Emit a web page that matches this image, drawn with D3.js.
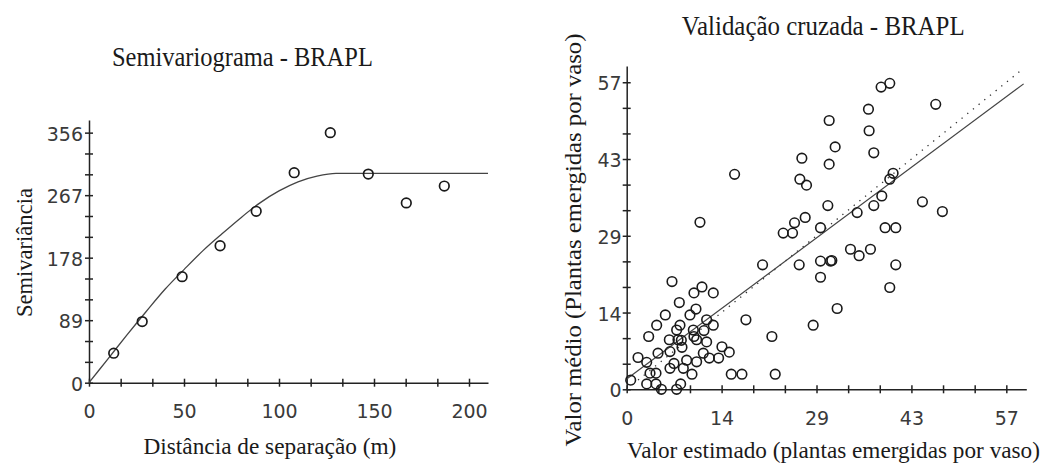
<!DOCTYPE html>
<html>
<head>
  <script src="https://d3js.org/d3.v7.min.js"></script>
</head>
<body style="margin:0">
  <div id="chart"></div>
  <script>
  // semivariograma experimental
  const semiDist = [13, 28, 49, 69, 88, 108, 127, 147, 167, 187];
  const semiGamma = [42, 87, 151, 195, 244, 299, 356, 297, 256, 280];
  // modelo ajustado
  const modelDist = [0, 10, 20, 30, 40, 50, 60, 70, 80, 90, 100, 110, 120, 130, 210];
  const modelGamma = [0, 34, 68, 101, 133, 161, 188, 212, 235, 256, 273, 286, 294, 298, 298];
  const semiXLabels = ["0", "50", "100", "150", "200"];
  const semiYLabels = ["0", "89", "178", "267", "356"];

  // validacao cruzada
  const estimated = [39.5, 38.2, 46.4, 36.3, 30.4, 36.4, 31.3, 37.1, 26.3, 30.4,
    16.2, 40.0, 39.5, 26.0, 27.0, 38.3, 37.1, 30.2, 44.4, 47.4,
    34.6, 26.8, 25.2, 11.0, 29.1, 38.8, 40.4, 23.5, 24.9, 33.6,
    34.9, 36.6, 25.9, 29.1, 30.6, 30.8, 40.4, 20.4, 29.1, 39.5,
    31.6, 28.0, 17.9, 21.8, 22.3, 15.7, 17.3,
    6.8, 11.3, 10.1, 13.0, 7.9, 10.4, 5.8, 9.5, 12.0, 13.0,
    4.5, 8.0, 3.3, 7.5, 10.0, 11.6, 6.4, 7.7, 8.2, 10.1,
    10.5, 12.0, 8.3, 4.7, 14.3, 15.4, 11.5, 9.0, 10.5, 12.4,
    13.8, 1.7, 3.0, 6.5, 7.1, 8.5, 9.8, 0.6, 3.5, 4.4,
    3.0, 4.4, 5.2, 7.5, 8.1, 6.5];
  const observed = [56.8, 56.1, 52.9, 52.0, 49.9, 48.0, 45.0, 43.9, 42.9, 41.8,
    39.9, 40.1, 39.0, 39.0, 37.9, 35.9, 34.1, 34.1, 34.8, 33.0,
    32.8, 31.9, 30.9, 31.0, 30.0, 30.0, 30.0, 29.0, 29.0, 26.0,
    24.8, 26.0, 23.1, 23.8, 23.8, 23.9, 23.1, 23.1, 20.8, 18.9,
    15.0, 11.9, 12.9, 9.8, 2.8, 2.8, 2.8,
    20.0, 19.0, 17.9, 17.9, 16.1, 14.9, 13.8, 13.8, 12.9, 11.9,
    11.9, 11.9, 9.8, 11.0, 11.0, 10.9, 9.2, 9.2, 9.1, 9.8,
    9.2, 8.8, 7.8, 6.7, 7.9, 6.9, 6.7, 5.4, 5.1, 5.8,
    5.8, 5.9, 5.0, 3.9, 4.8, 3.9, 2.8, 1.7, 3.0, 3.0,
    1.0, 1.0, 0.0, 0.0, 1.0, 7.0];
  const cvTickLabels = ["0", "14", "29", "43", "57"];
  // reta ajustada e reta 1:1
  const fitX = [0, 59.6];
  const fitY = [1.9, 56.7];
  const refX = [0, 59];
  const refY = [0, 59];

  const svg = d3.select("#chart")
    .append("svg")
    .attr("width", 1046)
    .attr("height", 463);

  // titulos e rotulos dos eixos: fonte serifada, comprimida na horizontal
  function label(text, x, y, size, len, rotate) {
    const t = svg.append("text")
      .style("font-family", "\"Liberation Serif\"")
      .attr("font-size", size)
      .attr("fill", "#1a1a1a")
      .text(text);
    const sx = len / t.node().getComputedTextLength();
    const rot = rotate ? " rotate(-90)" : "";
    t.attr("transform", `translate(${x},${y})${rot} scale(${sx},1) translate(${-len / 2 / sx},0)`);
  }

  label("Semivariograma - BRAPL", 242.5, 66, 27, 261);
  label("Distância de separação (m)", 270, 454, 23.5, 253);
  label("Semivariância", 32, 252.5, 23.5, 129, true);

  label("Validação cruzada - BRAPL", 823.3, 35, 27, 283);
  label("Valor estimado (plantas emergidas por vaso)", 833.5, 458, 23.5, 413);
  label("Valor médio (Plantas emergidas por vaso)", 581, 240, 23.5, 413, true);

  function styleAxis(g) {
    g.select(".domain").attr("stroke", "#222").attr("stroke-width", 1.5);
    g.selectAll(".tick line").attr("stroke", "#222").attr("stroke-width", 1.5);
    g.selectAll(".tick text")
      .style("font-family", "\"DejaVu Sans\"")
      .attr("font-size", 19)
      .attr("fill", "#3a3a3a");
  }

  // ---------- Semivariograma ----------
  const xSemi = d3.scaleLinear().domain([0, 210]).range([89, 488]);
  const ySemi = d3.scaleLinear().domain([0, 374]).range([382.7, 120]);

  const semiXStep = 50 / 3;
  const semiYStep = 89 / 3;

  svg.append("g")
    .attr("transform", `translate(0,${ySemi(0)})`)
    .call(d3.axisBottom(xSemi)
      .tickValues(d3.range(13).map(i => i * semiXStep))
      .tickFormat((d, i) => i % 3 === 0 ? semiXLabels[i / 3] : "")
      .tickSizeInner(4).tickSizeOuter(0))
    .call(g => g.selectAll(".tick line").attr("y1", -4))
    .call(g => g.selectAll(".tick text").attr("y", 35.5).attr("dy", null))
    .call(styleAxis);

  svg.append("g")
    .attr("transform", `translate(${xSemi(0)},0)`)
    .call(d3.axisLeft(ySemi)
      .tickValues(d3.range(13).map(i => i * semiYStep))
      .tickFormat((d, i) => i % 3 === 0 ? semiYLabels[i / 3] : "")
      .tickSizeInner(4).tickSizeOuter(0))
    .call(g => g.selectAll(".tick line").attr("x1", 4))
    .call(g => g.selectAll(".tick text").attr("x", -6).attr("dy", "0.4em"))
    .call(styleAxis);

  svg.append("path")
    .datum(modelDist.map((d, i) => [d, modelGamma[i]]))
    .attr("fill", "none")
    .attr("stroke", "#444")
    .attr("stroke-width", 1.3)
    .attr("d", d3.line().x(d => xSemi(d[0])).y(d => ySemi(d[1])).curve(d3.curveMonotoneX));

  svg.selectAll("circle.semi")
    .data(semiDist)
    .enter()
    .append("circle")
    .attr("class", "semi")
    .attr("cx", d => xSemi(d))
    .attr("cy", (d, i) => ySemi(semiGamma[i]))
    .attr("r", 4.8)
    .attr("fill", "none")
    .attr("stroke", "#1a1a1a")
    .attr("stroke-width", 1.7);

  // ---------- Validacao cruzada ----------
  const xCv = d3.scaleLinear().domain([0, 60]).range([626.7, 1026.3]);
  const yCv = d3.scaleLinear().domain([0, 60]).range([389.3, 66.1]);
  const cvStep = 57 / 12;

  svg.append("g")
    .attr("transform", `translate(0,${yCv(0)})`)
    .call(d3.axisBottom(xCv)
      .tickValues(d3.range(13).map(i => i * cvStep))
      .tickFormat((d, i) => i % 3 === 0 ? cvTickLabels[i / 3] : "")
      .tickSizeInner(4).tickSizeOuter(0))
    .call(g => g.selectAll(".tick line").attr("y1", -4))
    .call(g => g.selectAll(".tick text").attr("y", 35.5).attr("dy", null))
    .call(styleAxis);

  svg.append("g")
    .attr("transform", `translate(${xCv(0)},0)`)
    .call(d3.axisLeft(yCv)
      .tickValues(d3.range(13).map(i => i * cvStep))
      .tickFormat((d, i) => i % 3 === 0 ? cvTickLabels[i / 3] : "")
      .tickSizeInner(4).tickSizeOuter(0))
    .call(g => g.selectAll(".tick line").attr("x1", 4))
    .call(g => g.selectAll(".tick text").attr("x", -5).attr("dy", "0.4em"))
    .call(styleAxis);

  svg.append("path")
    .datum(refX.map((d, i) => [d, refY[i]]))
    .attr("fill", "none")
    .attr("stroke", "#333")
    .attr("stroke-width", 1.3)
    .attr("stroke-dasharray", "1.3,6")
    .attr("d", d3.line().x(d => xCv(d[0])).y(d => yCv(d[1])));

  svg.append("path")
    .datum(fitX.map((d, i) => [d, fitY[i]]))
    .attr("fill", "none")
    .attr("stroke", "#444")
    .attr("stroke-width", 1.2)
    .attr("d", d3.line().x(d => xCv(d[0])).y(d => yCv(d[1])));

  svg.selectAll("circle.cv")
    .data(estimated)
    .enter()
    .append("circle")
    .attr("class", "cv")
    .attr("cx", d => xCv(d))
    .attr("cy", (d, i) => yCv(observed[i]))
    .attr("r", 4.8)
    .attr("fill", "none")
    .attr("stroke", "#1a1a1a")
    .attr("stroke-width", 1.6);
  </script>
</body>
</html>
